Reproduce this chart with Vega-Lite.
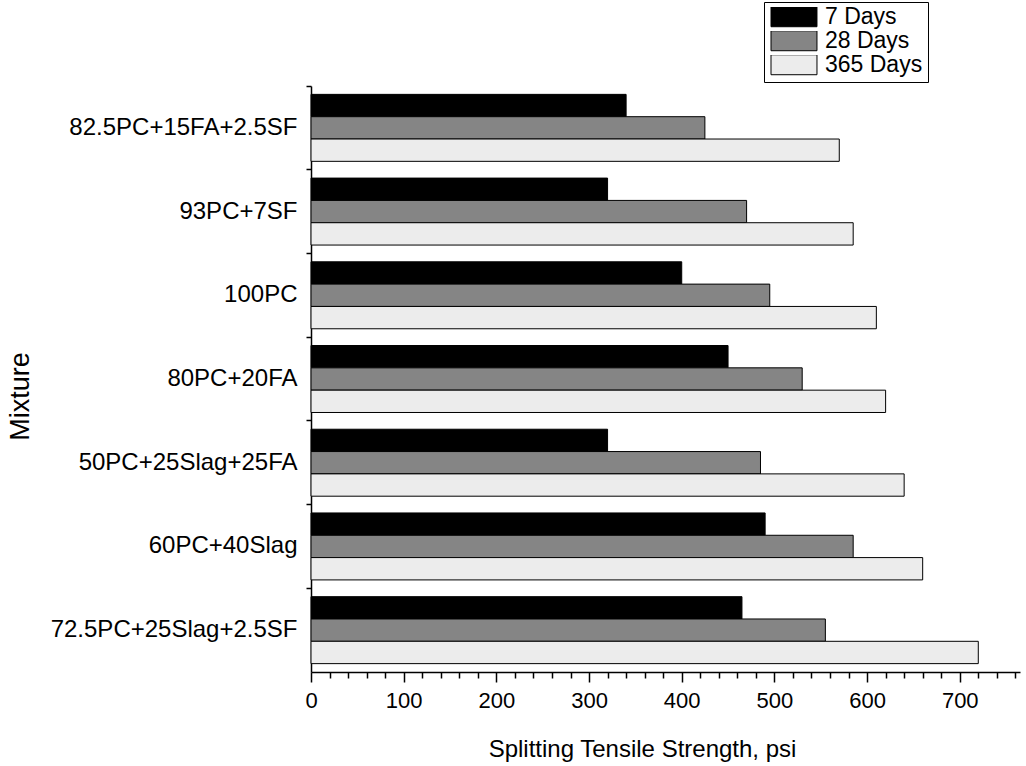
{
  "$schema": "https://vega.github.io/schema/vega-lite/v6.json",
  "width": 709,
  "height": 586,
  "autosize": {"type": "none"},
  "padding": {"left": 311, "top": 86, "right": 6, "bottom": 94},
  "background": "white",
  "config": {"font": "Liberation Sans", "view": {"stroke": null}},
  "data": {"values": [
    {"mixture": "82.5PC+15FA+2.5SF", "age": "7 Days", "psi": 340},
    {"mixture": "82.5PC+15FA+2.5SF", "age": "28 Days", "psi": 425},
    {"mixture": "82.5PC+15FA+2.5SF", "age": "365 Days", "psi": 570},
    {"mixture": "93PC+7SF", "age": "7 Days", "psi": 320},
    {"mixture": "93PC+7SF", "age": "28 Days", "psi": 470},
    {"mixture": "93PC+7SF", "age": "365 Days", "psi": 585},
    {"mixture": "100PC", "age": "7 Days", "psi": 400},
    {"mixture": "100PC", "age": "28 Days", "psi": 495},
    {"mixture": "100PC", "age": "365 Days", "psi": 610},
    {"mixture": "80PC+20FA", "age": "7 Days", "psi": 450},
    {"mixture": "80PC+20FA", "age": "28 Days", "psi": 530},
    {"mixture": "80PC+20FA", "age": "365 Days", "psi": 620},
    {"mixture": "50PC+25Slag+25FA", "age": "7 Days", "psi": 320},
    {"mixture": "50PC+25Slag+25FA", "age": "28 Days", "psi": 485},
    {"mixture": "50PC+25Slag+25FA", "age": "365 Days", "psi": 640},
    {"mixture": "60PC+40Slag", "age": "7 Days", "psi": 490},
    {"mixture": "60PC+40Slag", "age": "28 Days", "psi": 585},
    {"mixture": "60PC+40Slag", "age": "365 Days", "psi": 660},
    {"mixture": "72.5PC+25Slag+2.5SF", "age": "7 Days", "psi": 465},
    {"mixture": "72.5PC+25Slag+2.5SF", "age": "28 Days", "psi": 555},
    {"mixture": "72.5PC+25Slag+2.5SF", "age": "365 Days", "psi": 720}
  ]},
  "mark": {"type": "bar", "stroke": "black", "strokeWidth": 1},
  "encoding": {
    "y": {
      "field": "mixture", "type": "nominal",
      "sort": ["82.5PC+15FA+2.5SF", "93PC+7SF", "100PC", "80PC+20FA", "50PC+25Slag+25FA", "60PC+40Slag", "72.5PC+25Slag+2.5SF"],
      "scale": {"paddingInner": 0, "paddingOuter": 0},
      "axis": {
        "title": "Mixture", "bandPosition": 0, "labelLimit": 400,
        "labelFontSize": 24, "labelColor": "black", "labelPadding": 9,
        "tickSize": 5, "tickColor": "black", "tickWidth": 1.5,
        "domainColor": "black", "domainWidth": 1.5,
        "titleFontSize": 27, "titleFontWeight": "normal", "titleColor": "black",
        "titleX": -291, "titleY": 310, "titleAngle": -90, "titleAlign": "center", "titleBaseline": "middle"
      }
    },
    "yOffset": {
      "field": "age", "type": "nominal", "sort": ["7 Days", "28 Days", "365 Days"],
      "scale": {"paddingInner": 0, "paddingOuter": 0.375}
    },
    "x": {
      "field": "psi", "type": "quantitative",
      "scale": {"domain": [0, 765], "nice": false},
      "axis": {
        "title": "Splitting Tensile Strength, psi",
        "values": [0,20,40,60,80,100,120,140,160,180,200,220,240,260,280,300,320,340,360,380,400,420,440,460,480,500,520,540,560,580,600,620,640,660,680,700,720,740,760],
        "labelExpr": "datum.value % 100 === 0 ? datum.label : ''",
        "tickSize": {"condition": {"test": "datum.value % 100 === 0", "value": 10}, "value": 6},
        "tickColor": "black", "tickWidth": 1.5,
        "labelFlush": false, "labelFontSize": 22, "labelColor": "black", "labelPadding": 8,
        "domainColor": "black", "domainWidth": 1.5, "grid": false,
        "titleFontSize": 24, "titleFontWeight": "normal", "titleColor": "black",
        "titleX": 331, "titleY": 84, "titleAnchor": "middle", "titleBaseline": "alphabetic"
      }
    },
    "fill": {
      "field": "age", "type": "nominal",
      "scale": {"domain": ["7 Days", "28 Days", "365 Days"], "range": ["#000000", "#858585", "#ececec"]},
      "legend": {
        "title": null, "orient": "none", "legendX": 453, "legendY": -84,
        "symbolType": "M-1,-1.05L3.84,-1.05L3.84,1.05L-1,1.05Z", "symbolSize": 361,
        "symbolStrokeColor": "black", "symbolStrokeWidth": 1, "symbolOpacity": 1,
        "labelFontSize": 23, "labelColor": "black", "labelOffset": 33, "labelLimit": 300,
        "clipHeight": 19.5, "rowPadding": 0, "padding": 5, "strokeColor": "black", "fillColor": "white"
      }
    }
  }
}
